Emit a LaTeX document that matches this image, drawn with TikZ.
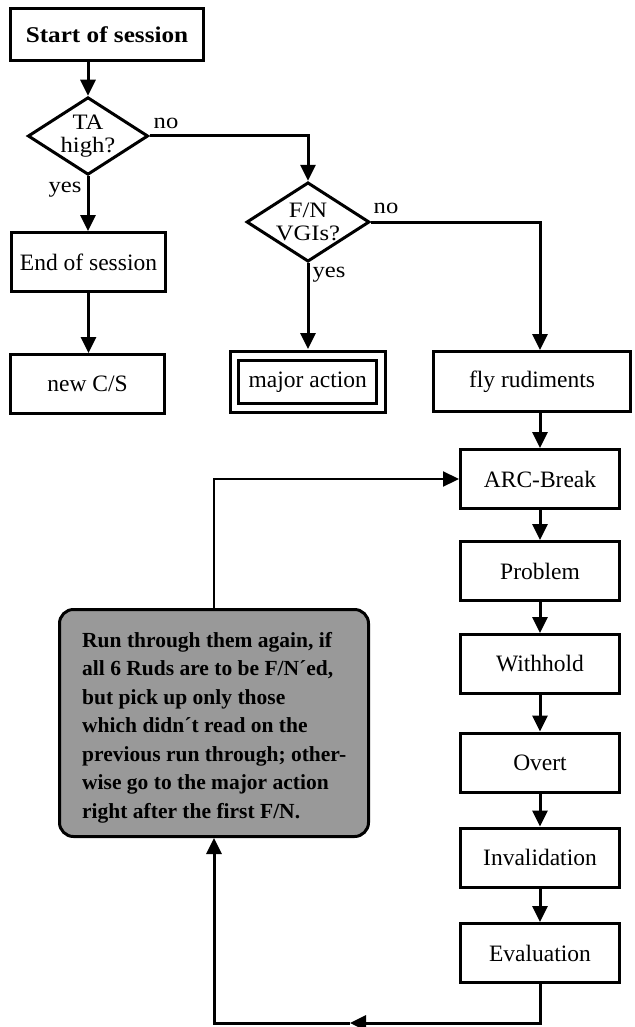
\documentclass[tikz,border=0pt]{standalone}
\usepackage{fontspec}
\setmainfont{Liberation Serif}
\newfontfamily\schfont{Liberation Serif}[FakeStretch=1.12]
\usetikzlibrary{arrows.meta,shapes.geometric}

\definecolor{notegray}{gray}{0.6}

\tikzset{
  lw/.style={line width=3pt},
  tip/.style={-{Triangle[length=16pt,width=15pt]}},
  flow/.style={lw, tip},
  link/.style={line width=2.2pt, tip},
  box/.style={draw, lw, rectangle, inner sep=0pt, minimum height=59pt,
    font=\fontsize{23.5}{26}\selectfont},
  colbox/.style={box, minimum width=159pt},
  decision/.style={draw, lw, diamond, inner sep=0pt, aspect=1.55,
    align=center, font=\schfont\fontsize{22}{23}\selectfont},
  answer/.style={inner sep=0pt, font=\schfont\fontsize{22}{23}\selectfont},
  note/.style={draw, lw, fill=notegray, rounded corners=14pt,
    minimum width=309pt, minimum height=227pt, inner sep=0pt},
}

\begin{document}
\begin{tikzpicture}[x=1pt, y=-1pt]
  \fill[white] (0,0) rectangle (634,1027);
  \useasboundingbox (0,0) rectangle (634,1027);

  % left branch
  \node[box, minimum width=193pt, minimum height=52pt,
        font=\schfont\bfseries\fontsize{22.5}{24}\selectfont] (start) at (107,34.5) {Start of session};
  \node[decision, minimum width=118pt, minimum height=76pt] (ta) at (88,136) {TA\\high?};
  \node[box, minimum width=154pt] (endS) at (88.5,262) {End of session};
  \node[box, minimum width=154pt] (newcs) at (87.5,384) {new C/S};

  % middle branch
  \node[decision, minimum width=121pt, minimum height=78pt] (fn) at (308,222) {F/N\\VGIs?};
  \node[draw, lw, double=white, double distance=5.5pt, rectangle, inner sep=0pt,
        minimum width=146.5pt, minimum height=52pt,
        font=\fontsize{23.5}{26}\selectfont] (major) at (307.75,382) {major action};

  % right column
  \node[box, minimum width=197pt, minimum height=60pt] (fly) at (532,381.5) {fly rudiments};
  \node[colbox] (arc) at (540,479) {ARC-Break};
  \node[colbox] (prob) at (540,571) {Problem};
  \node[colbox] (wh) at (540,664) {Withhold};
  \node[colbox] (ov) at (540,762.5) {Overt};
  \node[colbox] (inv) at (540,857.5) {Invalidation};
  \node[colbox] (ev) at (540,953) {Evaluation};

  % note box
  \node[note] (note) at (214,723) {};
  \node[anchor=north west, align=left, inner sep=0pt,
        font=\bfseries\fontsize{21.5}{28.5}\selectfont] (notetext) at (82,632)
    {Run through them again, if\\
     all 6 Ruds are to be F/N´ed,\\
     but pick up only those\\
     which didn´t read on the\\
     previous run through; other-\\
     wise go to the major action\\
     right after the first F/N.};

  % answers
  \node[answer] (tano) at (166,123) {no};
  \node[answer] (tayes) at (65,190) {yes};
  \node[answer] (fnno) at (386,208) {no};
  \node[answer] (fnyes) at (329,275) {yes};

  \coordinate (loop) at (350,1023);

  % connectors
  \draw[flow] (start.south -| ta.north) -- (ta.north);
  \draw[flow] (ta.south) -- (ta.south |- endS.north);
  \draw[flow] (endS.south) -- (endS.south |- newcs.north);
  \draw[flow] (ta.east) -| (fn.north);
  \draw[flow] (fn.south) -- ([yshift=5.5pt]fn.south |- major.north);
  \draw[flow] (fn.east) -| (fly.north -| arc.north);
  \draw[flow] (fly.south -| arc.north) -- (arc.north);
  \draw[flow] (arc.south) -- (prob.north);
  \draw[flow] (prob.south) -- (wh.north);
  \draw[flow] (wh.south) -- (ov.north);
  \draw[flow] (ov.south) -- (inv.north);
  \draw[flow] (inv.south) -- (ev.north);
  \draw[flow] (ev.south) |- (loop);
  \draw[flow] (loop) -| (note.south);
  \draw[link] (note.north) |- (arc.west);
\end{tikzpicture}
\end{document}
